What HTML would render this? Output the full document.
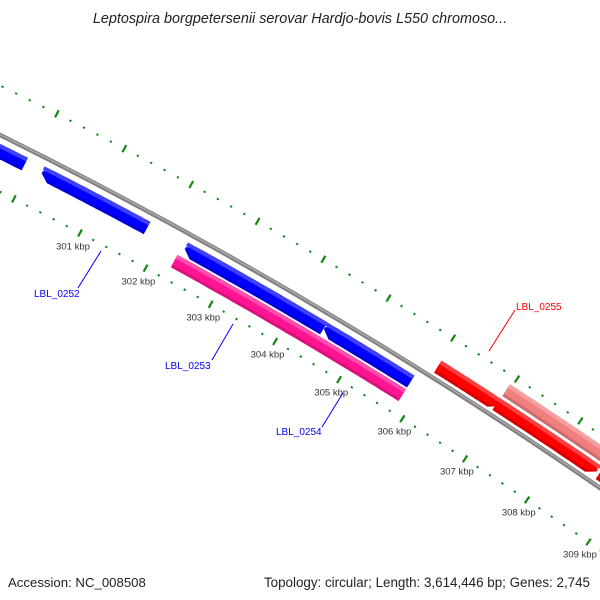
<!DOCTYPE html>
<html><head><meta charset="utf-8"><style>
html,body{margin:0;padding:0;background:#fff;width:600px;height:600px;overflow:hidden}
svg{display:block;overflow:hidden}
</style></head><body>
<svg id="map" width="600" height="600" viewBox="0 0 600 600" xmlns="http://www.w3.org/2000/svg">
<text x="300" y="23" text-anchor="middle" font-family="Liberation Sans, sans-serif" font-style="italic" font-size="14.4" fill="#222">Leptospira borgpetersenii serovar Hardjo-bovis L550 chromoso...</text>
<g id="ticks"></g>
<g id="backbone"></g>
<g id="feats"></g>
<g id="labels"></g>
<text x="8" y="587" font-family="Liberation Sans, sans-serif" font-size="13.2" fill="#222">Accession: NC_008508</text>
<text x="590" y="587" text-anchor="end" font-family="Liberation Sans, sans-serif" font-size="13.4" fill="#222">Topology: circular; Length: 3,614,446 bp; Genes: 2,745</text>
</svg>
<script>
// data
const tickKbp = [299,300,301,302,303,304,305,306,307,308,309,310];
const labelKbp = [301,302,303,304,305,306,307,308,309];
const featStart = [298500,300170,300985,302330,304470,302290,306030,306950,308600,306960];
const featEnd   = [299920,300985,301760,304470,305830,305830,307000,308560,310500,309500];
const featStrand= [-1,-1,-1,-1,-1,-1,1,1,1,1];
const featLane  = [1,1,1,1,1,2,1,1,1,2];
const featColor = ['#0000ff','#0000ff','#0000ff','#0000ff','#0000ff','#ff1493','#ff0000','#ff0000','#ff0000','#f08080'];
const featArrow = [0,1,0,1,1,0,1,1,0,0];
const geneLabels = ['LBL_0252','LBL_0253','LBL_0254','LBL_0255'];
const geneLabelBp = [301300,303700,305200,307300];

const NS='http://www.w3.org/2000/svg';
function el(t,a,p){const e=document.createElementNS(NS,t);for(const k in a)e.setAttribute(k,a[k]);p.appendChild(e);return e;}
function circ(p1,p2,p3){const [ax,ay]=p1,[bx,by]=p2,[cx,cy]=p3;const d=2*(ax*(by-cy)+bx*(cy-ay)+cx*(ay-by));
const ux=((ax*ax+ay*ay)*(by-cy)+(bx*bx+by*by)*(cy-ay)+(cx*cx+cy*cy)*(ay-by))/d;
const uy=((ax*ax+ay*ay)*(cx-bx)+(bx*bx+by*by)*(ax-cx)+(cx*cx+cy*cy)*(bx-ax))/d;return [ux,uy];}
const C=circ([0,135],[300,297],[600,488]);
const R=Math.hypot(0-C[0],135-C[1]);
const ang=p=>Math.atan2(p[1]-C[1],p[0]-C[0]);
const a301=ang([80,233]),a309=ang([592,537]);
const rIn=Math.hypot(80-C[0],233-C[1]);
const rOut=Math.hypot(125-C[0],149-C[1]);
const k=(a309-a301)/8000;
const th=bp=>a301+(bp-301000)*k;
const P=(bp,r)=>[C[0]+r*Math.cos(th(bp)),C[1]+r*Math.sin(th(bp))];

const tg=document.getElementById('ticks');
for(let i=0;i<tickKbp.length-1;i++){
  for(let j=0;j<5;j++){
    const bp=tickKbp[i]*1000+j*200;
    const major=j===0;
    [[rIn,-1],[rOut,1]].forEach(([r,s])=>{
      const len=major?8:2;
      const a=P(bp,r-len/2),b=P(bp,r+len/2);
      const t=el('line',{x1:a[0],y1:a[1],x2:b[0],y2:b[1],stroke:'#118811','stroke-width':2.2},tg);
      
      
    });
  }
}
labelKbp.forEach(v=>{
  const p=P(v*1000,rIn-15);
  const t=el('text',{x:p[0],y:p[1]+3,'text-anchor':'middle','font-family':'Liberation Sans, sans-serif','font-size':'9.5',fill:'#333'},tg);
  t.textContent=v+' kbp';
  
  
});
const bg=document.getElementById('backbone');
function arcPath(b0,b1,r){let d='';for(let i=0;i<=60;i++){const p=P(b0+(b1-b0)*i/60,r);d+=(i?'L':'M')+p[0].toFixed(1)+' '+p[1].toFixed(1);}return d;}
el('path',{d:arcPath(297500,310800,R),stroke:'#808080','stroke-width':4.5,fill:'none'},bg);
el('path',{d:arcPath(297500,310800,R+0.5),stroke:'#a8a8a8','stroke-width':1.5,fill:'none'},bg);
const fg=document.getElementById('feats');
function lighten(c,f){const n=parseInt(c.slice(1),16);let r=n>>16,g=(n>>8)&255,b=n&255;r=Math.round(r+(255-r)*f);g=Math.round(g+(255-g)*f);b=Math.round(b+(255-b)*f);return `rgb(${r},${g},${b})`;}
function darken(c,f){const n=parseInt(c.slice(1),16);return `rgb(${Math.round((n>>16)*f)},${Math.round(((n>>8)&255)*f)},${Math.round((n&255)*f)})`;}
function band(b0,b1,r0,r1,strand,arrow){
  const head=arrow?130:0;let pts=[];
  let s=b0,e=b1;
  if(arrow&&strand>0)e=b1-head; if(arrow&&strand<0)s=b0+head;
  for(let i=0;i<=30;i++)pts.push(P(s+(e-s)*i/30,r1));
  if(arrow&&strand>0)pts.push(P(b1,(r0+r1)/2));
  for(let i=30;i>=0;i--)pts.push(P(s+(e-s)*i/30,r0));
  if(arrow&&strand<0)pts.push(P(b0,(r0+r1)/2));
  return 'M'+pts.map(p=>p[0].toFixed(1)+' '+p[1].toFixed(1)).join('L')+'Z';
}
featStart.forEach((s,i)=>{
  const e=featEnd[i],st=featStrand[i],lane=featLane[i];
  let r0,r1;
  if(st<0){r1=lane===1?R-8:R-24;r0=r1-14;}else{r0=lane===1?R+5:R+22;r1=r0+14;}
  const g=el('g',{},fg);
  
  
  const col=featColor[i];
  el('path',{d:band(s,e,r0,r1,st,featArrow[i]),fill:darken(col,0.85)},g);
  el('path',{d:band(s,e,r0+3,r1,st,featArrow[i]),fill:col},g);
  el('path',{d:band(s,e,r1-4,r1,st,0),fill:lighten(col,0.25)},g);
});
const lg=document.getElementById('labels');
const lblPos=[[34,297,78,288,101,251,'#0000ff'],[165,369,212,360,233,324,'#0000ff'],[276,435,322,427,343,393,'#0000ff'],[516,310,515,310,489,351,'#ff0000']];
geneLabels.forEach((n,i)=>{
  const q=lblPos[i];
  const l=el('line',{x1:q[2],y1:q[3],x2:q[4],y2:q[5],stroke:q[6],'stroke-width':1},lg);
  
  
  const t=el('text',{x:q[0],y:q[1],'font-family':'Liberation Sans, sans-serif','font-size':'10',fill:q[6]},lg);
  t.textContent=n;
  
  
});
</script>
</body></html>
